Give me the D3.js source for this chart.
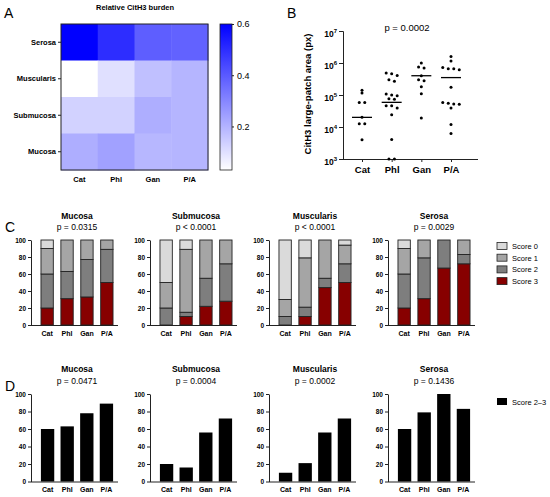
<!DOCTYPE html>
<html>
<head>
<meta charset="utf-8">
<script src="https://cdn.jsdelivr.net/npm/d3@7"></script>
<style>
  body { margin: 0; background: #fff; }
  svg  { display: block; font-family: "Liberation Sans", Arial, sans-serif; }
  .b   { font-weight: bold; }
</style>
</head>
<body>
<svg id="fig" width="550" height="497"></svg>
<script>
// ── Data ─────────────────────────────────────────────────
const groups = ['Cat', 'Phl', 'Gan', 'P/A'];
const layers = ['Mucosa', 'Submucosa', 'Muscularis', 'Serosa'];

// A: relative CitH3 burden (rows top → bottom)
const heatRows       = ['Serosa', 'Muscularis', 'Submucosa', 'Mucosa'];
const heatSerosa     = [0.60, 0.50, 0.39, 0.38];
const heatMuscularis = [0.03, 0.10, 0.17, 0.195];
const heatSubmucosa  = [0.13, 0.13, 0.21, 0.195];
const heatMucosa     = [0.21, 0.24, 0.19, 0.195];
const heatTicks      = [0.2, 0.4, 0.6];

// B: large-patch area per animal (px)
const areaCat = [1.4e5, 1.15e5, 5.8e4, 5.8e4, 2.0e4, 1.26e4, 1.26e4, 4.0e3];
const areaPhl = [4.6e5, 4.1e5, 4.9e5, 2.7e5, 3.0e5, 1.0e5, 1.07e5, 9.5e4, 7.7e4, 7.4e4,
                 4.6e4, 4.6e4, 3.9e4, 2.4e4, 4.1e3, 1e3, 1e3];
const areaGan = [1.0e6, 7.0e5, 7.5e5, 2.8e5, 3.0e5, 1.8e5, 1.1e5, 1.9e4, 4.0e5];
const areaPA  = [1.6e6, 1.15e6, 7.2e5, 6.6e5, 6.6e5, 6.2e5, 1.75e5, 5.8e4, 5.1e4, 5.2e4,
                 5.5e4, 3.9e4, 1.2e4, 6.3e3];
const areaMedians = [2.0e4, 5.9e4, 4.0e5, 3.5e5];
const areaTicks   = [3, 4, 5, 6, 7];   // exponents
const bPValue     = 'p = 0.0002';

// C: score distribution (%), per group [Score 0, Score 1, Score 2, Score 3]
const scoreNames  = ['Score 0', 'Score 1', 'Score 2', 'Score 3'];
const cMucosa     = [[10, 30, 40, 20], [0, 37, 32, 31], [0, 23, 44, 33], [0, 11, 39, 50]];
const cSubmucosa  = [[50, 30, 20, 0], [11, 74, 5, 10], [0, 45, 33, 22], [0, 28, 44, 28]];
const cMuscularis = [[70, 20, 10, 0], [21, 58, 11, 10], [0, 45, 11, 44], [6, 22, 22, 50]];
const cSerosa     = [[10, 30, 40, 20], [0, 21, 48, 31], [0, 0, 33, 67], [0, 17, 11, 72]];
const cPValues    = ['p = 0.0315', 'p < 0.0001', 'p < 0.0001', 'p = 0.0029'];

// D: Score 2–3 (%)
const dMucosa     = [60, 63, 78, 89];
const dSubmucosa  = [20, 16, 56, 72];
const dMuscularis = [10, 21, 56, 72];
const dSerosa     = [60, 79, 100, 83];
const dPValues    = ['p = 0.0471', 'p = 0.0004', 'p = 0.0002', 'p = 0.1436'];
const pctTicks    = [0, 20, 40, 60, 80, 100];

const SCORE_COLOR = ['#dadada', '#a5a5a5', '#7e7e7e', '#870000'];
const INK = '#222';

const svg = d3.select('#fig');

function panelLabel(txt, x, y) {
  svg.append('text').attr('x', x).attr('y', y).attr('font-size', 14).text(txt);
}
function styleAxis(g, size, bold) {
  g.select('.domain').attr('stroke', INK).attr('stroke-width', 1);
  g.selectAll('.tick line').attr('stroke', INK);
  g.selectAll('.tick text').attr('fill', '#000').attr('font-size', size)
    .attr('font-weight', bold ? 'bold' : null).attr('font-family', null);
}

// ═══════════════════════════════════════════════════════
// A — heatmap
// ═══════════════════════════════════════════════════════
(function () {
  panelLabel('A', 4, 18);
  const heatVals = [heatSerosa, heatMuscularis, heatSubmucosa, heatMucosa];
  const x = d3.scaleBand().domain(groups).range([61, 208]);
  const y = d3.scaleBand().domain(heatRows).range([24, 170]);
  const color = d3.scaleLinear().domain([0.03, 0.6]).range(['#ffffff', '#0000ff'])
    .interpolate(d3.interpolateRgb);

  svg.append('text').attr('class', 'b').attr('x', 135).attr('y', 10)
    .attr('text-anchor', 'middle').attr('font-size', 7.5).text('Relative CitH3 burden');

  const cells = [];
  heatRows.forEach((r, i) => groups.forEach((g, j) => cells.push({ r, g, v: heatVals[i][j] })));
  svg.append('g').selectAll('rect').data(cells).join('rect')
    .attr('x', d => x(d.g)).attr('y', d => y(d.r))
    .attr('width', x.bandwidth() + 0.5).attr('height', y.bandwidth() + 0.5)
    .attr('fill', d => color(d.v));
  svg.append('rect').attr('x', 61).attr('y', 24).attr('width', 147).attr('height', 146)
    .attr('fill', 'none').attr('stroke', INK).attr('stroke-width', 1);

  const ay = svg.append('g').attr('transform', 'translate(61,0)')
    .call(d3.axisLeft(y).tickSize(3).tickPadding(2));
  ay.select('.domain').remove();
  styleAxis(ay, 7.5, true);
  const ax = svg.append('g').attr('transform', 'translate(0,170)')
    .call(d3.axisBottom(x).tickSize(0).tickPadding(7));
  ax.select('.domain').remove();
  styleAxis(ax, 7.5, true);

  // colour bar
  const grad = svg.append('defs').append('linearGradient').attr('id', 'hg')
    .attr('x1', 0).attr('y1', 1).attr('x2', 0).attr('y2', 0);
  grad.append('stop').attr('offset', 0).attr('stop-color', color(0.03));
  grad.append('stop').attr('offset', 1).attr('stop-color', color(0.6));
  svg.append('rect').attr('x', 220).attr('y', 24).attr('width', 12).attr('height', 146)
    .attr('fill', 'url(#hg)').attr('stroke', INK).attr('stroke-width', 0.8);
  const cb = d3.scaleLinear().domain([0.03, 0.6]).range([170, 24]);
  const cg = svg.append('g').attr('transform', 'translate(232,0)')
    .call(d3.axisRight(cb).tickValues(heatTicks).tickSize(2).tickPadding(3).tickFormat(d3.format('.1f')));
  cg.select('.domain').remove();
  styleAxis(cg, 9, false);
})();

// ═══════════════════════════════════════════════════════
// B — scatter with medians (log y)
// ═══════════════════════════════════════════════════════
(function () {
  panelLabel('B', 287, 18);
  const areas = [areaCat, areaPhl, areaGan, areaPA];
  const x = d3.scalePoint().domain(groups).range([362, 451]);
  const y = d3.scaleLog().domain([1e3, 1e7]).range([159, 31]);

  svg.append('text').attr('x', 407).attr('y', 31).attr('text-anchor', 'middle')
    .attr('font-size', 9.5).text(bPValue);

  svg.append('text').attr('class', 'b').attr('font-size', 9.5).attr('text-anchor', 'middle')
    .attr('transform', 'translate(311,94) rotate(-90)').text('CitH3 large-patch area (px)');

  // y axis
  const ay = svg.append('g').attr('transform', 'translate(343,0)')
    .call(d3.axisLeft(y).tickValues(areaTicks.map(e => Math.pow(10, e))).tickSize(4).tickPadding(2)
      .tickFormat(() => ''));
  styleAxis(ay, 8.5, true);
  ay.selectAll('.tick text').each(function (d) {
    const t = d3.select(this);
    t.append('tspan').text('10');
    t.append('tspan').attr('font-size', 6).attr('dy', -4).text(Math.round(Math.log10(d)));
  });
  ay.selectAll('.tick text').attr('dy', '0.6em');

  // x axis
  const ax = svg.append('g').attr('transform', 'translate(0,159)')
    .call(d3.axisBottom(x).tickSize(3).tickPadding(4).tickSizeOuter(0));
  ax.select('.domain').attr('d', 'M343,0.5H478');
  styleAxis(ax, 9.5, true);

  // points — spread rows of near-equal values sideways
  const pts = [];
  areas.forEach((vals, gi) => {
    const sorted = vals.slice().sort((a, b) => b - a);
    let row = [];
    const flush = () => {
      row.forEach((v, k) => pts.push({ g: groups[gi], v, off: (k - (row.length - 1) / 2) * 5.5 }));
      row = [];
    };
    sorted.forEach(v => {
      if (row.length && y(v) - y(row[0]) > 2.5) flush();
      row.push(v);
    });
    flush();
  });
  svg.append('g').selectAll('circle').data(pts).join('circle')
    .attr('cx', d => x(d.g) + d.off).attr('cy', d => y(d.v)).attr('r', 1.5).attr('fill', '#000');

  svg.append('g').selectAll('line').data(areaMedians).join('line')
    .attr('x1', (d, i) => x(groups[i]) - 10).attr('x2', (d, i) => x(groups[i]) + 10)
    .attr('y1', d => y(d)).attr('y2', d => y(d)).attr('stroke', '#000').attr('stroke-width', 1.3);
})();

// ═══════════════════════════════════════════════════════
// C & D — small multiples
// ═══════════════════════════════════════════════════════
const panelX = i => 31 + i * 119;

function smallFrame(i, yScale, titleY, padInner) {
  const x0 = panelX(i);
  const x = d3.scaleBand().domain(groups).range([x0 + 5, x0 + 87])
    .paddingInner(padInner).paddingOuter(0.25);
  const ay = svg.append('g').attr('transform', `translate(${x0},0)`)
    .call(d3.axisLeft(yScale).tickValues(pctTicks).tickSize(3).tickPadding(2).tickSizeOuter(0));
  styleAxis(ay, 6.5, true);
  const ax = svg.append('g').attr('transform', `translate(0,${yScale(0)})`)
    .call(d3.axisBottom(x).tickSize(0).tickPadding(6));
  ax.select('.domain').attr('d', `M${x0},0.5H${x0 + 87}`);
  styleAxis(ax, 7, true);
  const cx = x0 + 46;
  svg.append('text').attr('class', 'b').attr('x', cx).attr('y', titleY)
    .attr('text-anchor', 'middle').attr('font-size', 8.5).text(layers[i]);
  return x;
}

(function () {
  panelLabel('C', 5, 232);
  const cData = [cMucosa, cSubmucosa, cMuscularis, cSerosa];
  const y = d3.scaleLinear().domain([0, 100]).range([325, 240]);
  cData.forEach((data, i) => {
    const x = smallFrame(i, y, 219, 0.38);
    svg.append('text').attr('x', panelX(i) + 46).attr('y', 230)
      .attr('text-anchor', 'middle').attr('font-size', 8.5).text(cPValues[i]);
    const rows = data.map((s, gi) => ({ g: groups[gi], s0: s[0], s1: s[1], s2: s[2], s3: s[3] }));
    const stack = d3.stack().keys(['s3', 's2', 's1', 's0'])(rows);
    svg.append('g').selectAll('g').data(stack).join('g')
      .attr('fill', d => SCORE_COLOR[3 - d.index])
      .selectAll('rect').data(d => d.filter(p => p[1] > p[0])).join('rect')
      .attr('x', d => x(d.data.g)).attr('width', x.bandwidth())
      .attr('y', d => y(d[1])).attr('height', d => y(d[0]) - y(d[1]))
      .attr('stroke', INK).attr('stroke-width', 0.9);
  });

  // legend
  const lg = svg.append('g');
  scoreNames.forEach((n, k) => {
    const yy = 246 + k * 11.7;
    lg.append('rect').attr('x', 497).attr('y', yy - 3.5).attr('width', 10).attr('height', 7)
      .attr('fill', SCORE_COLOR[k]).attr('stroke', INK).attr('stroke-width', 0.8);
    lg.append('text').attr('x', 512).attr('y', yy + 2.8).attr('font-size', 7.5).text(n);
  });
})();

(function () {
  panelLabel('D', 5, 391);
  const dData = [dMucosa, dSubmucosa, dMuscularis, dSerosa];
  const y = d3.scaleLinear().domain([0, 100]).range([481.5, 394]);
  dData.forEach((data, i) => {
    const x = smallFrame(i, y, 372, 0.32);
    svg.append('text').attr('x', panelX(i) + 46).attr('y', 384)
      .attr('text-anchor', 'middle').attr('font-size', 8.5).text(dPValues[i]);
    svg.append('g').selectAll('rect').data(data).join('rect')
      .attr('x', (d, k) => x(groups[k])).attr('width', x.bandwidth())
      .attr('y', d => y(d)).attr('height', d => y(0) - y(d)).attr('fill', '#000');
  });
  svg.append('rect').attr('x', 497).attr('y', 398).attr('width', 10).attr('height', 7).attr('fill', '#000');
  svg.append('text').attr('x', 512).attr('y', 404.5).attr('font-size', 7.5).text('Score 2–3');
})();
</script>
</body>
</html>
